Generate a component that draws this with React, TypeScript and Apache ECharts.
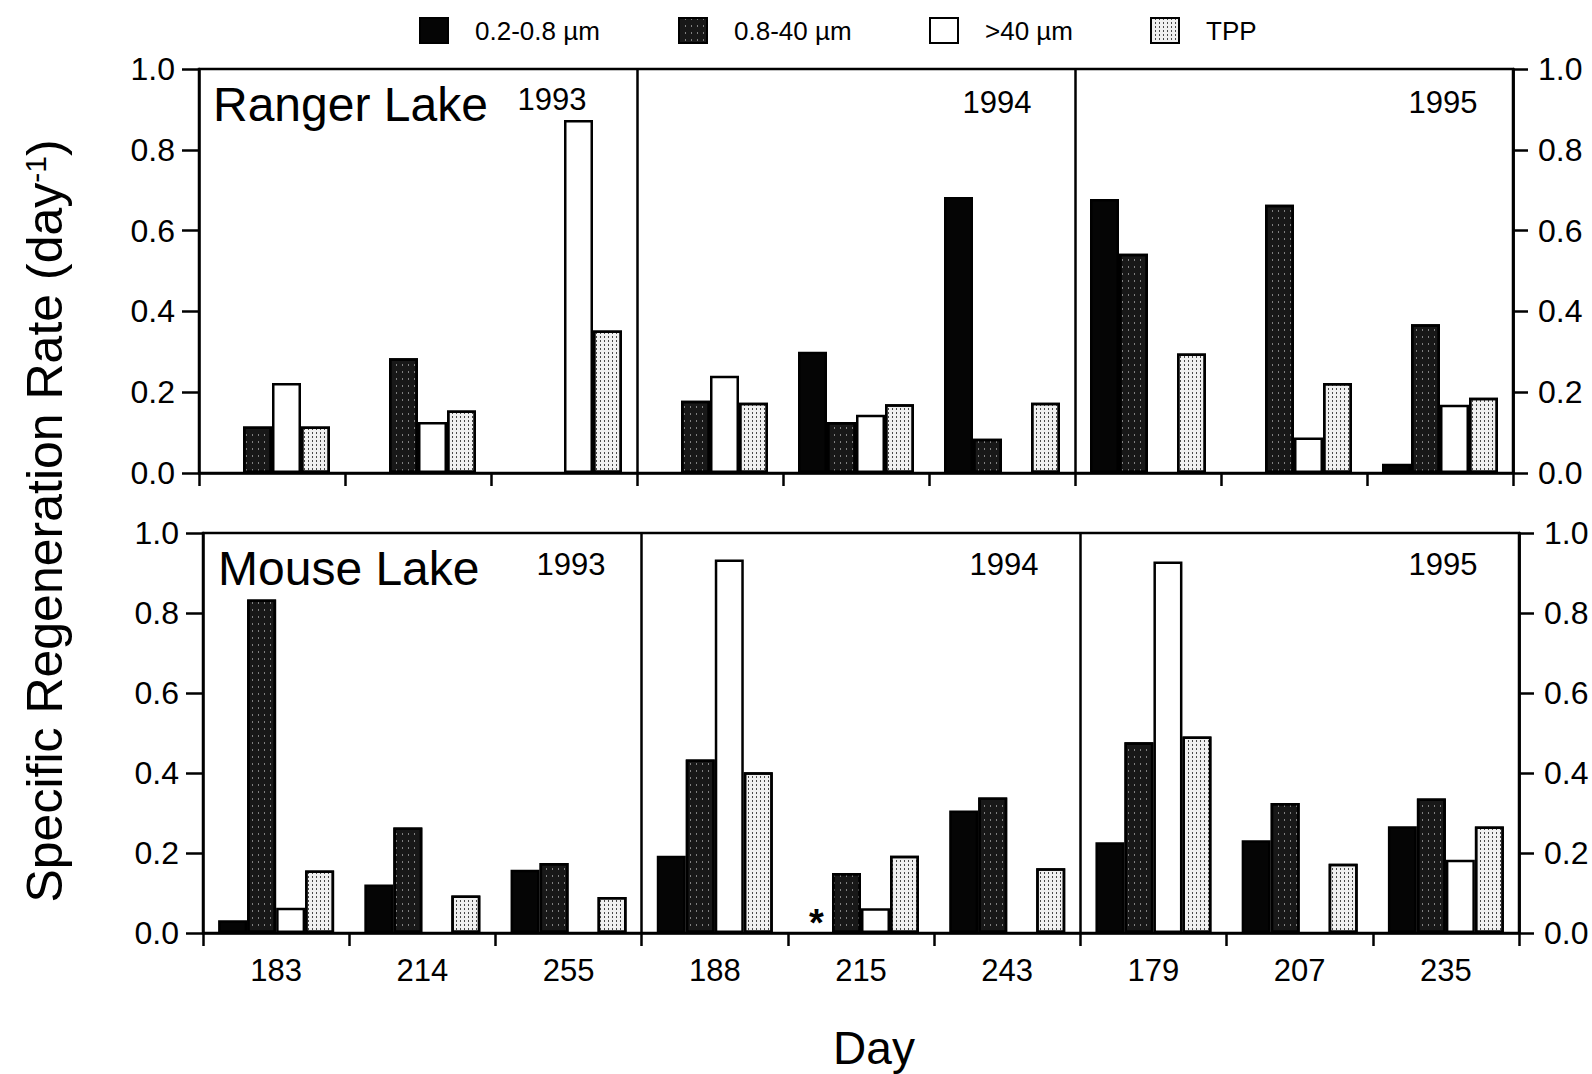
import React, { useEffect, useRef } from 'react';
import * as echarts from 'echarts';

// ---------- data ----------
const days = ['183', '214', '255', '188', '215', '243', '179', '207', '235'];
const seriesNames = ['0.2-0.8 µm', '0.8-40 µm', '>40 µm', 'TPP'];
const yTickLabels = ['0.0', '0.2', '0.4', '0.6', '0.8', '1.0'];

// Ranger Lake (top panel)
const rangerFine = [null, null, null, null, 0.300, 0.683, 0.678, null, 0.023];
const rangerMid = [0.115, 0.284, null, 0.179, 0.126, 0.085, 0.543, 0.664, 0.368];
const rangerLarge = [0.223, 0.126, 0.874, 0.241, 0.144, null, null, 0.088, 0.169];
const rangerTPP = [0.115, 0.155, 0.353, 0.174, 0.170, 0.174, 0.296, 0.223, 0.186];

// Mouse Lake (bottom panel)
const mouseFine = [0.032, 0.121, 0.158, 0.193, 0, 0.306, 0.227, 0.232, 0.267];
const mouseMid = [0.834, 0.264, 0.175, 0.434, 0.150, 0.339, 0.477, 0.325, 0.336];
const mouseLarge = [0.063, null, null, 0.934, 0.062, null, 0.929, null, 0.183];
const mouseTPP = [0.156, 0.094, 0.090, 0.402, 0.193, 0.162, 0.491, 0.173, 0.266];
const mouseFineNotes = ['', '', '', '', '*', '', '', '', ''];

const FONT = '"Liberation Sans", Arial, Helvetica, sans-serif';
const LW = 2.5;

const seriesStyles: any[] = [
  { color: '#050505' },
  {
    color: '#181818',
    decal: {
      symbol: 'rect',
      symbolSize: 1,
      color: 'rgba(255,255,255,0.45)',
      dashArrayX: [1, 5],
      dashArrayY: [2, 5],
    },
  },
  { color: '#ffffff' },
  {
    color: '#f0f0f0',
    decal: {
      symbol: 'rect',
      symbolSize: 1,
      color: 'rgba(0,0,0,0.7)',
      dashArrayX: [1, 3],
      dashArrayY: [2, 2],
    },
  },
];

function buildSeries(gridIndex: number, arrays: (number | null)[][], notes?: string[][]) {
  return arrays.map((arr, s) => ({
    type: 'bar',
    name: seriesNames[s],
    xAxisIndex: gridIndex,
    yAxisIndex: gridIndex * 2,
    barWidth: 29,
    barGap: '0%',
    silent: true,
    itemStyle: { ...seriesStyles[s], borderColor: '#000', borderWidth: LW },
    emphasis: { disabled: true },
    data: arr.map((v, i) => {
      const note = notes && notes[s] ? notes[s][i] : '';
      if (note) {
        return {
          value: v,
          itemStyle: { borderWidth: 0, color: 'rgba(0,0,0,0)', decal: 'none' },
          label: {
            show: true,
            formatter: note,
            position: 'top',
            distance: 0,
            offset: [-1, 9],
            fontSize: 38,
            fontWeight: 'bold',
            fontFamily: FONT,
            color: '#000',
          },
        };
      }
      return v;
    }),
  }));
}

const axisLine = { show: true, lineStyle: { color: '#000', width: LW } };
const labelText = { color: '#000', fontFamily: FONT, fontSize: 32 };

function xAxisFor(gridIndex: number, showLabels: boolean) {
  return {
    type: 'category',
    gridIndex,
    data: days,
    boundaryGap: true,
    axisLine,
    axisTick: { show: true, interval: 0, length: 13, inside: false, lineStyle: { color: '#000', width: LW } },
    axisLabel: { show: showLabels, interval: 0, margin: 22, ...labelText, fontSize: 31 },
    splitLine: {
      show: true,
      interval: (i: number) => i === 3 || i === 6,
      lineStyle: { color: '#000', width: LW },
    },
  };
}

function yAxisFor(gridIndex: number, position: 'left' | 'right') {
  return {
    type: 'value',
    gridIndex,
    position,
    min: 0,
    max: 1,
    interval: 0.2,
    axisLine,
    axisTick: { show: true, length: position === 'left' ? 17 : 15, lineStyle: { color: '#000', width: LW } },
    axisLabel: {
      show: true,
      margin: position === 'left' ? 24 : 25,
      ...labelText,
      formatter: (v: number) => yTickLabels[Math.round(v / 0.2)],
    },
    splitLine: { show: false },
  };
}

const legendLefts = [419, 678, 929, 1150];

function buildOption(): any {
  return {
    animation: false,
    backgroundColor: '#fff',
    textStyle: { fontFamily: FONT },
    legend: seriesNames.map((n, i) => ({
      data: [n],
      left: legendLefts[i],
      top: 17,
      padding: 0,
      icon: 'rect',
      itemWidth: 28,
      itemHeight: 25,
      selectedMode: false,
      textStyle: { fontSize: 26, fontFamily: FONT, color: '#000', padding: [0, 0, 0, 22], lineHeight: 26 },
    })),
    grid: [
      { left: 199, top: 69, width: 1314, height: 404, show: true, borderColor: '#000', borderWidth: LW, backgroundColor: 'transparent' },
      { left: 203, top: 533, width: 1316, height: 400, show: true, borderColor: '#000', borderWidth: LW, backgroundColor: 'transparent' },
    ],
    xAxis: [xAxisFor(0, false), xAxisFor(1, true)],
    yAxis: [yAxisFor(0, 'left'), yAxisFor(0, 'right'), yAxisFor(1, 'left'), yAxisFor(1, 'right')],
    series: [
      ...buildSeries(0, [rangerFine, rangerMid, rangerLarge, rangerTPP]),
      ...buildSeries(1, [mouseFine, mouseMid, mouseLarge, mouseTPP], [mouseFineNotes]),
    ],
    graphic: [
      { type: 'text', x: 213, y: 104, style: { text: 'Ranger Lake', fontSize: 48, fontFamily: FONT, fill: '#000', align: 'left', verticalAlign: 'middle' } },
      { type: 'text', x: 218, y: 568, style: { text: 'Mouse Lake', fontSize: 48, fontFamily: FONT, fill: '#000', align: 'left', verticalAlign: 'middle' } },
      { type: 'text', x: 552, y: 99, style: { text: '1993', fontSize: 31, fontFamily: FONT, fill: '#000', align: 'center', verticalAlign: 'middle' } },
      { type: 'text', x: 997, y: 102, style: { text: '1994', fontSize: 31, fontFamily: FONT, fill: '#000', align: 'center', verticalAlign: 'middle' } },
      { type: 'text', x: 1443, y: 102, style: { text: '1995', fontSize: 31, fontFamily: FONT, fill: '#000', align: 'center', verticalAlign: 'middle' } },
      { type: 'text', x: 571, y: 564, style: { text: '1993', fontSize: 31, fontFamily: FONT, fill: '#000', align: 'center', verticalAlign: 'middle' } },
      { type: 'text', x: 1004, y: 564, style: { text: '1994', fontSize: 31, fontFamily: FONT, fill: '#000', align: 'center', verticalAlign: 'middle' } },
      { type: 'text', x: 1443, y: 564, style: { text: '1995', fontSize: 31, fontFamily: FONT, fill: '#000', align: 'center', verticalAlign: 'middle' } },
      {
        type: 'text',
        x: 45,
        y: 521,
        rotation: Math.PI / 2,
        style: {
          text: 'Specific Regeneration Rate (day{sup|-1})',
          fontSize: 50,
          fontFamily: FONT,
          fill: '#000',
          align: 'center',
          verticalAlign: 'middle',
          rich: { sup: { fontSize: 30, fontFamily: FONT, fill: '#000', verticalAlign: 'top' } },
        },
      },
      { type: 'text', x: 874, y: 1048, style: { text: 'Day', fontSize: 46, fontFamily: FONT, fill: '#000', align: 'center', verticalAlign: 'middle' } },
    ],
  };
}

export default function App() {
  const ref = useRef<HTMLDivElement>(null);
  useEffect(() => {
    document.body.style.margin = '0';
    if (!ref.current) return;
    const chart = echarts.init(ref.current, null, { renderer: 'svg' });
    chart.setOption(buildOption());
    return () => chart.dispose();
  }, []);
  return <div ref={ref} style={{ position: 'absolute', left: 0, top: 0, width: 1592, height: 1074 }} />;
}
